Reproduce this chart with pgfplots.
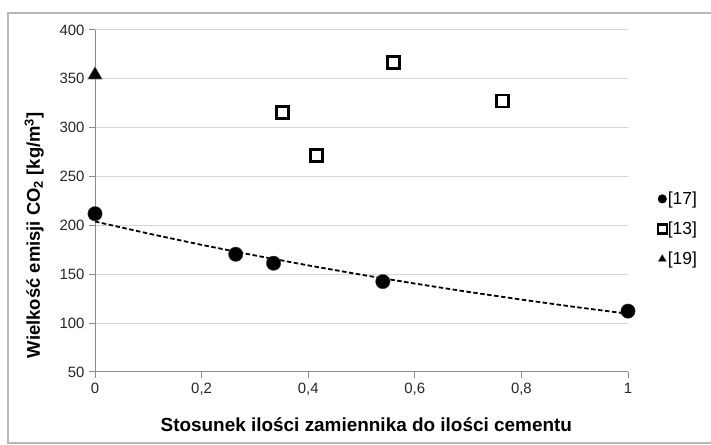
\documentclass[border=0pt]{standalone}
\usepackage{fontspec}
\setmainfont{Liberation Sans}
\usepackage{pgfplots}
\pgfplotsset{compat=1.18}

\begin{document}
\begin{tikzpicture}[x=1bp,y=1bp]
\useasboundingbox (0,0) rectangle (711,445);
% chart area frame
\draw[black!28, line width=1.2bp] (712,432) -- (8,432) -- (8,2) -- (712,2);
\begin{axis}[
  at={(95bp,73bp)}, anchor=south west,
  scale only axis, width=533bp, height=342bp,
  xmin=0, xmax=1, ymin=50, ymax=400,
  xtick={0,0.2,0.4,0.6,0.8,1},
  ytick={50,100,150,200,250,300,350,400},
  axis x line*=bottom, axis y line*=left,
  ymajorgrids,
  grid style={black!17, line width=1bp},
  axis line style={black!45, line width=1bp},
  tick style={black!45, line width=1bp},
  tick align=outside, major tick length=6bp,
  clip=false,
  /pgf/number format/use comma,
  /pgf/number format/assume math mode=true,
  ticklabel style={font=\fontsize{15}{17}\selectfont, text=black!85},
  xticklabel style={yshift=-2bp},
  yticklabel style={xshift=-1bp},
  xlabel={\textbf{Stosunek ilości zamiennika do ilości cementu}},
  xlabel style={at={(axis description cs:0.509,-0.154)}, anchor=center,
    font=\fontsize{19}{21}\selectfont},
  ylabel={\textbf{Wielkość emisji CO\textsubscript{2} [kg/m\textsuperscript{3}]}},
  ylabel style={at={(axis description cs:-0.114,0.4)}, anchor=center, rotate=0,
    font=\fontsize{18.5}{21}\selectfont},
  legend style={at={(axis description cs:1.0555,0.418)}, anchor=west,
    draw=none, fill=none, font=\fontsize{17.5}{19}\selectfont,
    row sep=14bp, inner sep=0pt, nodes={inner sep=1bp}},
  legend cell align=left,
  legend image code/.code={\draw[#1] plot coordinates {(5.5bp,0bp)};},
]
% fitted trend for [17]
\addplot[black, line width=1.8bp, dash pattern=on 4.5bp off 2.5bp, forget plot]
  coordinates {(0,204) (0.1,191.7) (0.2,180.1) (0.3,169.3) (0.4,159.1)
    (0.5,149.5) (0.6,140.5) (0.7,132.0) (0.8,124.1) (0.9,116.6) (1,109.6)};
% [17]
\addplot[only marks, mark=*, mark size=7.2bp, black, mark options={draw=black!75}, forget plot]
  coordinates {(0,212) (0.264,170.5) (0.335,161.3) (0.540,142.5) (1,112.3)};
% [13]
\addplot[only marks, mark=square, mark size=6bp, line width=2.8bp, black, forget plot]
  coordinates {(0.352,315.4) (0.416,271.2) (0.5595,367.1) (0.765,327.4)};
% [19]
\addplot[only marks, mark=triangle*, mark size=8.5bp, black, mark options={draw=black!85!green!40}, forget plot]
  coordinates {(0,354)};
\addlegendimage{only marks, mark=*, mark size=4.3bp, black}
\addlegendentry{[17]}
\addlegendimage{only marks, mark=square, mark size=4.5bp, line width=2.2bp, black}
\addlegendentry{[13]}
\addlegendimage{only marks, mark=triangle*, mark size=5bp, black, mark options={draw=black!85!green!40}}
\addlegendentry{[19]}
\end{axis}
\end{tikzpicture}
\end{document}
